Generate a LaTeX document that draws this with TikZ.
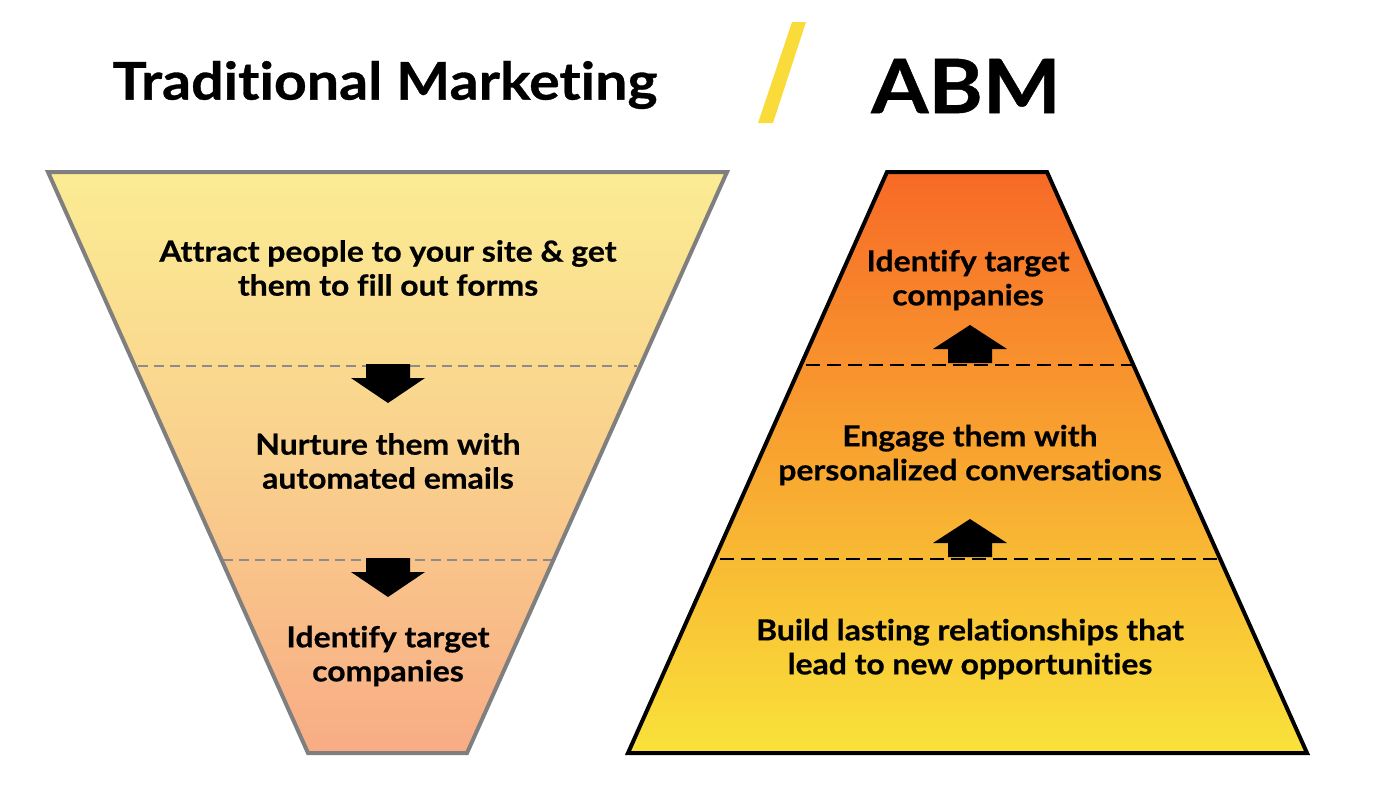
\documentclass[tikz,border=0pt]{standalone}
\usepackage{fontspec}
\setmainfont{Lato}[FakeStretch=1.1, Ligatures=CommonOff, BoldFeatures={FakeBold=0.6}]
\definecolor{funtop}{HTML}{FBEC93}
\definecolor{funmid}{HTML}{F9D08D}
\definecolor{funbot}{HTML}{F8AC84}
\definecolor{pyrtop}{HTML}{F76A27}
\definecolor{pyrmid}{HTML}{F5A627}
\definecolor{pyrbot}{HTML}{F9E23A}
\definecolor{slash}{HTML}{F9DC3A}
\definecolor{edgegray}{HTML}{7F7F7F}
\tikzset{
  bodytext/.style={align=center, font=\bfseries\fontsize{29}{34}\selectfont, inner sep=0pt},
  funneldash/.style={draw=edgegray!90, line width=1.8pt, dash pattern=on 10pt off 6pt},
  pyrdash/.style={draw=black, line width=2pt, dash pattern=on 14pt off 7pt},
  downarrow/.pic={\fill[black] (-22,0) -- (22,0) -- (22,14) -- (37,14) -- (0,39) -- (-37,14) -- (-22,14) -- cycle;},
  uparrow/.pic={\fill[black] (-22,0) -- (22,0) -- (22,-14) -- (37,-14) -- (0,-38) -- (-37,-14) -- (-22,-14) -- cycle;}
}
\begin{document}
\begin{tikzpicture}[x=1pt,y=-1pt]
\useasboundingbox (0,0) rectangle (1385,785);
% titles
\node[font=\bfseries\fontsize{52}{60}\selectfont, inner sep=0pt] (ttrad) at (385,85) {Traditional Marketing};
\node[font=\bfseries\fontsize{75}{90}\selectfont, inner sep=0pt] (tabm) at (966,86) {ABM};
\fill[slash] (758,123) -- (773,123) -- (806,22) -- (792,22) -- cycle;
% funnel
\shade[top color=funtop, bottom color=funbot, middle color=funmid] (48,172) -- (727,172) -- (467,753) -- (308,753) -- cycle;
\draw[funneldash] (138,366) -- (637,366);
\draw[funneldash] (223,560) -- (552,560);
\draw[edgegray, line width=4pt, line join=miter] (48,172) -- (727,172) -- (467,753) -- (308,753) -- cycle;
% pyramid
\shade[top color=pyrtop, middle color=pyrmid, bottom color=pyrbot] (887,172) -- (1047,172) -- (1307,753) -- (628,753) -- cycle;
\draw[pyrdash] (806,365) -- (1132,365);
\draw[pyrdash] (720,559) -- (1220,559);
\draw[black, line width=4pt, line join=miter] (887,172) -- (1047,172) -- (1307,753) -- (628,753) -- cycle;
% arrows
\pic at (388,364) {downarrow};
\pic at (388,558) {downarrow};
\pic at (970,363) {uparrow};
\pic at (970,557) {uparrow};
% texts
\node[bodytext] (f1) at (388,268) {Attract people to your site \& get\\them to fill out forms};
\node[bodytext] (f2) at (388,461) {Nurture them with\\automated emails};
\node[bodytext] (f3) at (388,656) {Identify target\\companies};
\node[bodytext] (p1) at (968,280) {Identify target\\companies};
\node[bodytext] (p2) at (970,455) {Engage them with\\personalized conversations};
\node[bodytext] (p3) at (970,649) {Build lasting relationships that\\lead to new opportunities};
\end{tikzpicture}
\end{document}
